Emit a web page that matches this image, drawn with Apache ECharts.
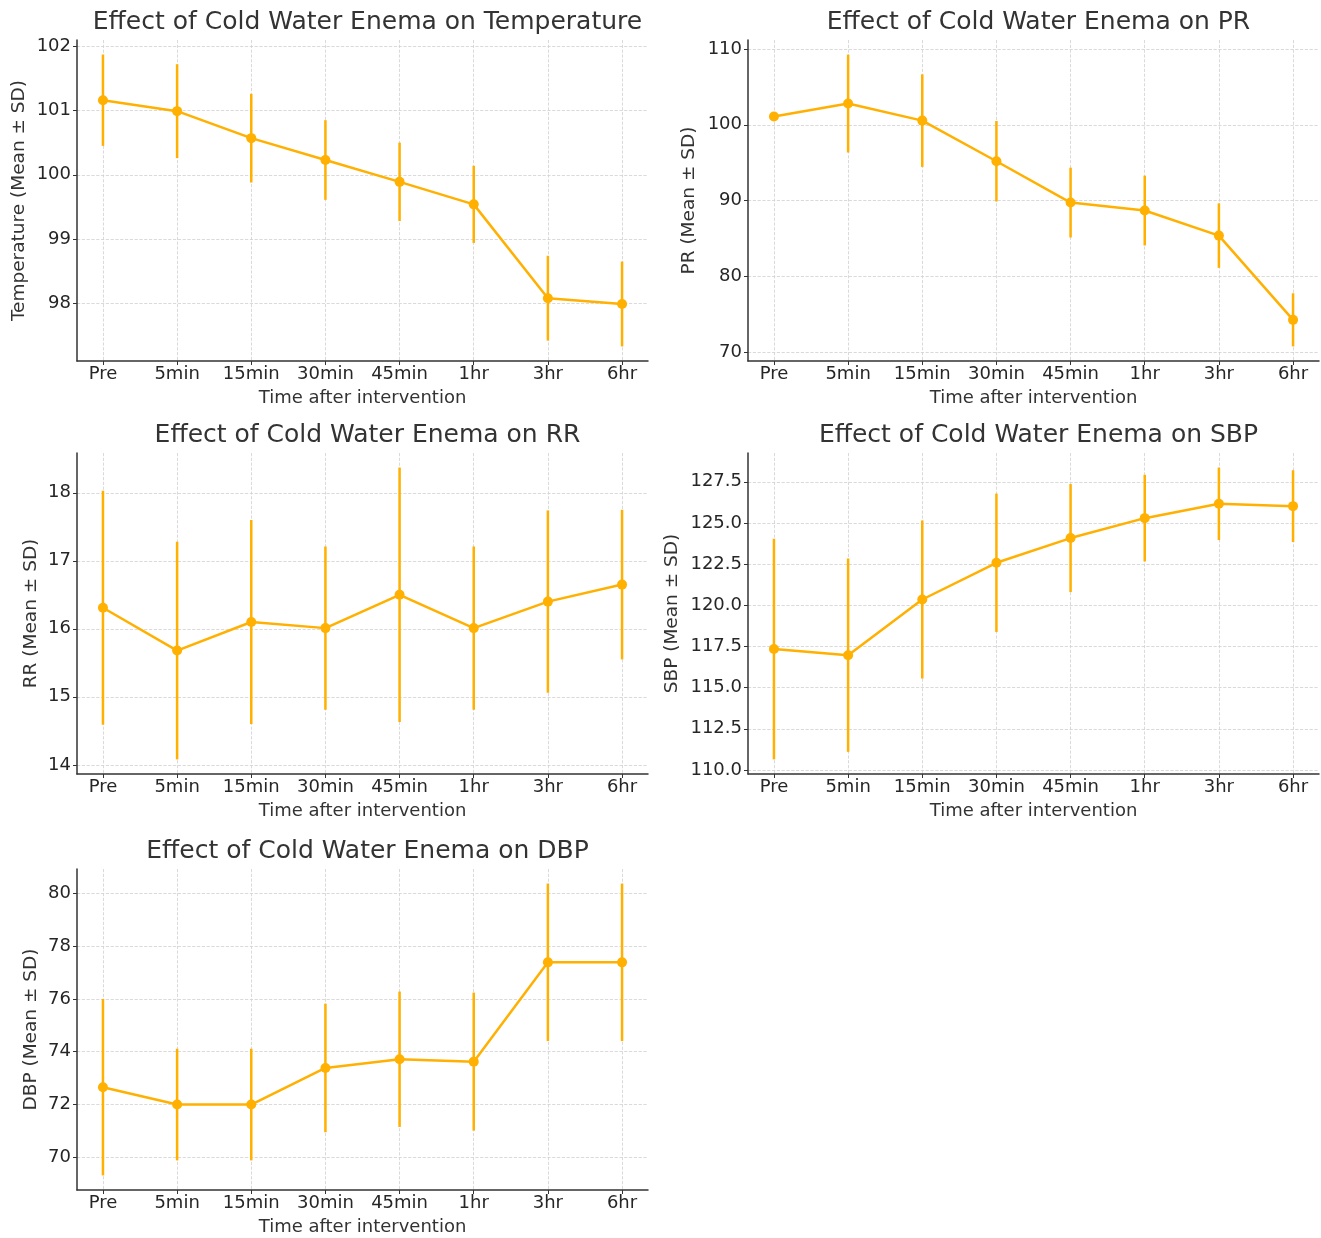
<!DOCTYPE html>
<html>
<head>
<meta charset="utf-8">
<script src="https://cdn.jsdelivr.net/npm/echarts@6/dist/echarts.min.js"></script>
<style>
  html, body { margin: 0; padding: 0; background: #fff; }
  #Charts { width: 1321px; height: 1238px; }
</style>
</head>
<body>
<div id="Charts"></div>
<script>
var timeLabels = ['Pre', '5min', '15min', '30min', '45min', '1hr', '3hr', '6hr'];

var tempMean = [101.16, 100.99, 100.57, 100.23, 99.89, 99.54, 98.08, 97.99];
var tempSD   = [0.71, 0.73, 0.69, 0.62, 0.61, 0.60, 0.66, 0.66];
var tempTicks = [98, 99, 100, 101, 102];

var prMean = [101.1, 102.8, 100.55, 95.2, 89.75, 88.7, 85.4, 74.3];
var prSD   = [0.4, 6.45, 6.1, 5.3, 4.6, 4.6, 4.25, 3.5];
var prTicks = [70, 80, 90, 100, 110];

var rrMean = [16.31, 15.68, 16.1, 16.01, 16.5, 16.01, 16.4, 16.65];
var rrSD   = [1.72, 1.6, 1.5, 1.2, 1.87, 1.2, 1.34, 1.1];
var rrTicks = [14, 15, 16, 17, 18];

var sbpMean = [117.34, 116.97, 120.35, 122.58, 124.08, 125.29, 126.16, 126.02];
var sbpSD   = [6.7, 5.87, 4.8, 4.2, 3.28, 2.63, 2.2, 2.18];
var sbpTicks = [110, 112.5, 115, 117.5, 120, 122.5, 125, 127.5];

var dbpMean = [72.65, 71.99, 71.99, 73.38, 73.71, 73.62, 77.39, 77.39];
var dbpSD   = [3.35, 2.12, 2.12, 2.44, 2.57, 2.62, 2.99, 2.99];
var dbpTicks = [70, 72, 74, 76, 78, 80];

var panels = [
  {name: 'Temperature', mean: tempMean, sd: tempSD, ticks: tempTicks, dec: 0, left: 77, top: 40, nameGap: 48},
  {name: 'PR', mean: prMean, sd: prSD, ticks: prTicks, dec: 0, left: 748, top: 40, nameGap: 49},
  {name: 'RR', mean: rrMean, sd: rrSD, ticks: rrTicks, dec: 0, left: 77, top: 453, nameGap: 36},
  {name: 'SBP', mean: sbpMean, sd: sbpSD, ticks: sbpTicks, dec: 1, left: 748, top: 453, nameGap: 66},
  {name: 'DBP', mean: dbpMean, sd: dbpSD, ticks: dbpTicks, dec: 0, left: 77, top: 869, nameGap: 36}
];

var orange = '#FFB000';
var plotW = 571, plotH = 321;
var font = '"DejaVu Sans", sans-serif';

function makeCharts(){
  var option = {
    animation: false,
    backgroundColor: '#fff',
    title: [], grid: [], xAxis: [], yAxis: [], series: []
  };
  for (var i = 0; i < panels.length; i++) {
    var p = panels[i];
    // y range like matplotlib autoscale: data extent (with error bars) + 5% margin
    var lo = Infinity, hi = -Infinity;
    for (var k = 0; k < p.mean.length; k++) {
      lo = Math.min(lo, p.mean[k] - p.sd[k]);
      hi = Math.max(hi, p.mean[k] + p.sd[k]);
    }
    var pad = (hi - lo) * 0.05;

    option.title.push({
      text: 'Effect of Cold Water Enema on ' + p.name,
      left: p.left + plotW / 2,
      top: p.top - 35,
      textAlign: 'center',
      textStyle: {fontFamily: font, fontSize: 25, fontWeight: 'normal', color: '#333'}
    });
    option.grid.push({left: p.left, top: p.top, width: plotW, height: plotH, containLabel: false});
    option.xAxis.push({
      gridIndex: i,
      type: 'value',
      min: -0.35, max: 7.35,
      name: 'Time after intervention',
      nameLocation: 'middle',
      nameGap: 28,
      nameTextStyle: {fontFamily: font, fontSize: 18, color: '#333'},
      axisLine: {onZero: false, lineStyle: {color: '#333', width: 1.5}},
      axisTick: {show: true, length: 4, inside: false, customValues: [0, 1, 2, 3, 4, 5, 6, 7], lineStyle: {color: '#333'}},
      axisLabel: {
        customValues: [0, 1, 2, 3, 4, 5, 6, 7],
        margin: 4,
        fontFamily: font, fontSize: 18, color: '#262626',
        formatter: function(v){ return timeLabels[Math.round(v)]; }
      },
      splitLine: {show: true, lineStyle: {color: '#d0d0d0', type: 'dashed', width: 0.8}}
    });
    (function(dec){
      option.yAxis.push({
        gridIndex: i,
        type: 'value',
        min: lo - pad, max: hi + pad,
        name: p.name + ' (Mean ± SD)',
        nameLocation: 'middle',
        nameGap: p.nameGap,
        nameTextStyle: {fontFamily: font, fontSize: 18.5, color: '#333'},
        axisLine: {show: true, onZero: false, lineStyle: {color: '#333', width: 1.5}},
        axisTick: {show: true, length: 4, inside: false, customValues: p.ticks, lineStyle: {color: '#333'}},
        axisLabel: {
          customValues: p.ticks,
          margin: 6,
          fontFamily: font, fontSize: 18, color: '#262626',
          formatter: function(v){ return v.toFixed(dec); }
        },
        splitLine: {show: true, lineStyle: {color: '#d0d0d0', type: 'dashed', width: 0.8}}
      });
    })(p.dec);

    var lineData = [], errData = [];
    for (var k = 0; k < p.mean.length; k++) {
      lineData.push([k, p.mean[k]]);
      errData.push([k, p.mean[k] - p.sd[k], p.mean[k] + p.sd[k]]);
    }
    option.series.push({
      type: 'custom',
      xAxisIndex: i, yAxisIndex: i,
      data: errData,
      encode: {x: 0, y: [1, 2]},
      z: 2,
      renderItem: function(params, api){
        var a = api.coord([api.value(0), api.value(1)]);
        var b = api.coord([api.value(0), api.value(2)]);
        return {
          type: 'line',
          shape: {x1: a[0], y1: a[1], x2: b[0], y2: b[1]},
          style: {stroke: orange, lineWidth: 2.5}
        };
      }
    });
    option.series.push({
      type: 'line',
      xAxisIndex: i, yAxisIndex: i,
      data: lineData,
      symbol: 'circle',
      symbolSize: 10,
      z: 3,
      lineStyle: {color: orange, width: 2.5},
      itemStyle: {color: orange}
    });
  }
  var myChart = echarts.init(document.getElementById('Charts'));
  myChart.setOption(option);
}
makeCharts();
</script>
</body>
</html>
